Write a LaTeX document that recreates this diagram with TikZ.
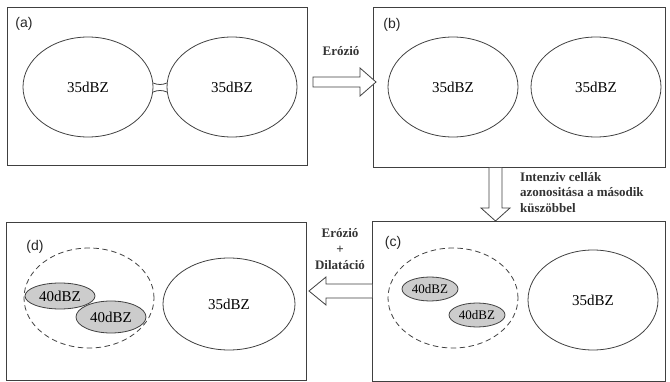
\documentclass[tikz,border=0pt]{standalone}
\usepackage{fontspec}
\setmainfont{Liberation Serif}
\setsansfont{Liberation Sans}
\usetikzlibrary{shapes.geometric,calc}

\tikzset{
  panel/.style={draw=black!75,line width=0.9pt,minimum width=#1,minimum height=158pt,inner sep=0pt},
  cell/.style={draw=black!75,line width=0.8pt,ellipse,inner sep=0pt,font=\fontsize{15}{17}\selectfont},
  core/.style={cell,fill=black!20,font=\fontsize{13}{15}\selectfont},
  hull/.style={draw=black!75,line width=0.8pt,dash pattern=on 5pt off 4pt,ellipse,inner sep=0pt},
  tag/.style={font=\sffamily\fontsize{14}{16}\selectfont,text=black!85},
  fatarrow/.style={draw=black!75,line width=0.8pt,fill=white,line join=miter},
  steplabel/.style={font=\bfseries\fontsize{13}{15.5}\selectfont,text=black!80,inner sep=0pt}
}

\begin{document}
\begin{tikzpicture}[x=1pt,y=-1pt,line cap=round]
\useasboundingbox (0,0) rectangle (670,382);

% panels
\node[panel=300pt] (pa) at (157,86) {};
\node[panel=292pt,minimum height=160pt] (pb) at (519,87) {};
\node[panel=300pt] (pd) at (156,301) {};
\node[panel=293pt,minimum height=160pt] (pc) at (518.5,301) {};

\node[tag] (ta) at (24,24) {(a)};
\node[tag] (tb) at (392,25) {(b)};
\node[tag] (tc) at (393,243) {(c)};
\node[tag] (td) at (35,247) {(d)};

% (a)
\node[cell,minimum width=130pt,minimum height=100pt] (a1) at (88,87) {35dBZ};
\node[cell,minimum width=130pt,minimum height=100pt] (a2) at (232,87) {35dBZ};
\draw[black!75,line width=0.8pt] (153,83) .. controls (158,85) and (162,85) .. (167,83);
\draw[black!75,line width=0.8pt] (153,92) .. controls (158,90) and (162,90) .. (167,92);

% (b)
\node[cell,minimum width=130pt,minimum height=100pt] (b1) at (453,87) {35dBZ};
\node[cell,minimum width=130pt,minimum height=100pt] (b2) at (596,87) {35dBZ};

% (c)
\node[hull,minimum width=130pt,minimum height=100pt] (c0) at (453,298) {};
\node[core,minimum width=56pt,minimum height=24pt] (c1) at (430,289) {40dBZ};
\node[core,minimum width=56pt,minimum height=24pt] (c2) at (477,315) {40dBZ};
\node[cell,minimum width=130pt,minimum height=100pt] (c3) at (593,300) {35dBZ};

% (d)
\node[hull,minimum width=130pt,minimum height=100pt] (d0) at (89,298) {};
\node[core,minimum width=70pt,minimum height=26pt,font=\fontsize{15}{17}\selectfont] (d1) at (60,296) {40dBZ};
\node[core,minimum width=70pt,minimum height=32pt,font=\fontsize{15}{17}\selectfont] (d2) at (111,317) {40dBZ};
\node[cell,minimum width=132pt,minimum height=92pt] (d3) at (229,304) {35dBZ};

% arrows between the steps
\draw[fatarrow] (313,77) -- (360,77) -- (360,68) -- (376,82) -- (360,96) -- (360,87) -- (313,87) -- cycle;
\node[steplabel] (l1) at (341,51) {Erózió};

\draw[fatarrow] (489,168) -- (489,208) -- (481,208) -- (495.5,221) -- (510,208) -- (502,208) -- (502,168);
\node[steplabel,anchor=north west,align=left] (l2) at (520,172) {Intenziv cellák\\azonositása a második\\küszöbbel};

\draw[fatarrow] (372,284) -- (326,284) -- (326,277) -- (309,291) -- (326,305) -- (326,298) -- (372,298);
\node[steplabel,align=center,font=\bfseries\fontsize{13}{16}\selectfont] (l3) at (340,249) {Erózió\\+\\Dilatáció};
\end{tikzpicture}
\end{document}
